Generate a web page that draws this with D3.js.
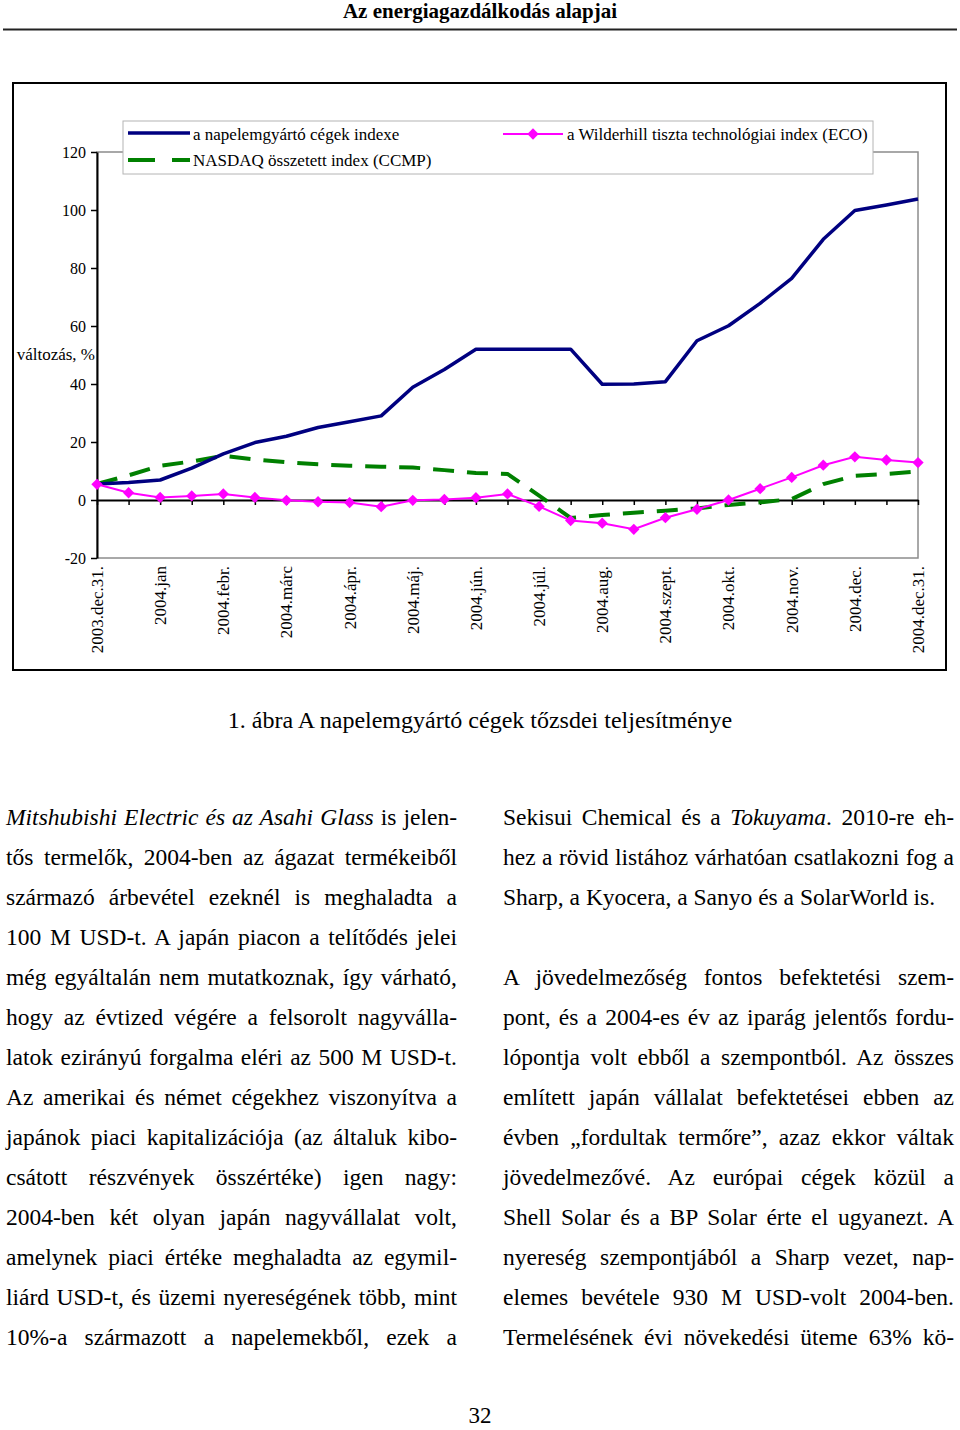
<!DOCTYPE html>
<html lang="hu">
<head>
    <meta charset="UTF-8">
    <title>A napelemgyártó cégek tőzsdei teljesítménye</title>
    <script src="https://cdnjs.cloudflare.com/ajax/libs/d3/7.8.2/d3.min.js"></script>
    <style>
        body{
            margin: 0;
            width: 960px;
            height: 1430px;
            position: relative;
            background: #fff;
            font-family: "Liberation Serif", "Times New Roman", serif;
            color: #000;
        }
        svg{
            position: absolute;
            left: 0;
            top: 0;
        }
        .col{
            position: absolute;
            top: 797px;
            width: 451px;
            font-size: 23.5px;
        }
        .ln{
            height: 40px;
            line-height: 40px;
            text-align: justify;
            text-align-last: justify;
        }
        .ln.last{
            text-align-last: left;
        }
        .pagenum{
            position: absolute;
            top: 1403px;
            width: 960px;
            text-align: center;
            font-size: 23px;
        }
    </style>
</head>
<body>
    <script>
        // categories (every other one is unlabeled)
        const categories = ['2003.dec.31.', '', '2004.jan', '', '2004.febr.', '', '2004.márc', '', '2004.ápr.', '',
            '2004.máj.', '', '2004.jún.', '', '2004.júl.', '', '2004.aug.', '', '2004.szept.', '', '2004.okt.', '',
            '2004.nov.', '', '2004.dec.', '', '2004.dec.31.'];

        // series values, change in %
        const solarIndex = [5.5, 6, 6.9, 11, 15.9, 19.8, 22, 25, 27, 29, 38.9, 45, 52, 52, 52, 52,
            39.9, 40, 40.8, 54.9, 60.1, 67.8, 76.4, 89.9, 99.8, 101.7, 103.8];
        const nasdaqIndex = [5.5, 8.5, 11.8, 13.3, 15.2, 14, 13, 12.3, 11.8, 11.5, 11.2, 10.3, 9.3, 9.0, 1.5, -6.2,
            -5.2, -4.4, -3.7, -2.9, -1.7, -0.8, 0.3, 5.5, 8.3, 9, 9.8];
        const ecoIndex = [5.4, 2.5, 0.9, 1.4, 2.1, 0.9, -0.1, -0.6, -0.9, -2.3, -0.1, 0.2, 0.8, 2.1, -2.2, -7.1,
            -8.0, -10.1, -6.1, -3.2, 0, 3.9, 7.8, 12, 14.9, 13.8, 12.9];

        const yTicks = [-20, 0, 20, 40, 60, 80, 100, 120];

        const seriesNames = ['a napelemgyártó cégek indexe', 'NASDAQ összetett index (CCMP)',
            'a Wilderhill tiszta technológiai index (ECO)'];

        // page text
        const leftLines = [
            '<i>Mitshubishi Electric és az Asahi Glass</i> is jelen-',
            'tős termelők, 2004-ben az ágazat termékeiből',
            'származó árbevétel ezeknél is meghaladta a',
            '100 M USD-t. A japán piacon a telítődés jelei',
            'még egyáltalán nem mutatkoznak, így várható,',
            'hogy az évtized végére a felsorolt nagyválla-',
            'latok ezirányú forgalma eléri az 500 M USD-t.',
            'Az amerikai és német cégekhez viszonyítva a',
            'japánok piaci kapitalizációja (az általuk kibo-',
            'csátott részvények összértéke) igen nagy:',
            '2004-ben két olyan japán nagyvállalat volt,',
            'amelynek piaci értéke meghaladta az egymil-',
            'liárd USD-t, és üzemi nyereségének több, mint',
            '10%-a származott a napelemekből, ezek a'
        ];
        const rightLines = [
            'Sekisui Chemical és a <i>Tokuyama</i>. 2010-re eh-',
            'hez a rövid listához várhatóan csatlakozni fog a',
            'Sharp, a Kyocera, a Sanyo és a SolarWorld is.',
            '',
            'A jövedelmezőség fontos befektetési szem-',
            'pont, és a 2004-es év az iparág jelentős fordu-',
            'lópontja volt ebből a szempontból. Az összes',
            'említett japán vállalat befektetései ebben az',
            'évben „fordultak termőre”, azaz ekkor váltak',
            'jövedelmezővé. Az európai cégek közül a',
            'Shell Solar és a BP Solar érte el ugyanezt. A',
            'nyereség szempontjából a Sharp vezet, nap-',
            'elemes bevétele 930 M USD-volt 2004-ben.',
            'Termelésének évi növekedési üteme 63% kö-'
        ];

        const width = 960;
        const height = 760;
        const plot = {left: 97, right: 918, top: 152, bottom: 558};
        const font = '"Liberation Serif", "Times New Roman", serif';

        const svg = d3.select('body').append('svg')
            .attr('width', width)
            .attr('height', height)
            .style('font-family', font);

        // page header
        svg.append('text')
            .attr('x', 480).attr('y', 18)
            .attr('text-anchor', 'middle')
            .style('font-size', '21px')
            .style('font-weight', 'bold')
            .text('Az energiagazdálkodás alapjai');
        svg.append('line')
            .attr('x1', 3).attr('x2', 957)
            .attr('y1', 29.5).attr('y2', 29.5)
            .attr('stroke', '#222').attr('stroke-width', 2);

        // chart frame
        svg.append('rect')
            .attr('x', 13).attr('y', 83)
            .attr('width', 933).attr('height', 587)
            .attr('fill', '#fff')
            .attr('stroke', '#000').attr('stroke-width', 2);

        const xScale = d3.scalePoint()
            .domain(d3.range(categories.length))
            .range([plot.left, plot.right]);

        const yScale = d3.scaleLinear()
            .domain([-20, 120])
            .range([plot.bottom, plot.top]);

        // plot area border
        svg.append('rect')
            .attr('x', plot.left).attr('y', plot.top)
            .attr('width', plot.right - plot.left)
            .attr('height', plot.bottom - plot.top)
            .attr('fill', 'none')
            .attr('stroke', '#8c8c8c').attr('stroke-width', 1.5);

        // y axis
        const yAxis = d3.axisLeft(yScale)
            .tickValues(yTicks)
            .tickSize(6)
            .tickSizeOuter(0)
            .tickPadding(5)
            .tickFormat(d => String(d));
        const gy = svg.append('g')
            .attr('transform', `translate(${plot.left},0)`)
            .call(yAxis);
        gy.select('.domain').attr('stroke', '#000').attr('stroke-width', 2);
        gy.selectAll('.tick line').attr('stroke', '#000').attr('stroke-width', 1.5);
        gy.selectAll('text').style('font-size', '16px').style('font-family', font);

        svg.append('text')
            .attr('x', 95).attr('y', 360)
            .attr('text-anchor', 'end')
            .style('font-size', '17px')
            .text('változás, %');

        // x axis on the zero line
        const xAxis = d3.axisBottom(xScale)
            .tickSize(5)
            .tickSizeOuter(0)
            .tickFormat('');
        const gx = svg.append('g')
            .attr('transform', `translate(0,${yScale(0)})`)
            .call(xAxis);
        gx.select('.domain').attr('stroke', '#000').attr('stroke-width', 2);
        gx.selectAll('.tick line').attr('stroke', '#000').attr('stroke-width', 1.5);

        // rotated category labels under the plot
        svg.append('g')
            .selectAll('text')
            .data(categories)
            .join('text')
            .attr('transform', (d, i) => `translate(${xScale(i)},${plot.bottom + 8}) rotate(-90)`)
            .attr('dy', '0.35em')
            .attr('text-anchor', 'end')
            .style('font-size', '17px')
            .text(d => d);

        const lineGen = d3.line()
            .x((d, i) => xScale(i))
            .y(d => yScale(d));

        svg.append('path')
            .datum(nasdaqIndex)
            .attr('d', lineGen)
            .attr('fill', 'none')
            .attr('stroke', '#008000')
            .attr('stroke-width', 4)
            .attr('stroke-dasharray', '21,13');

        svg.append('path')
            .datum(solarIndex)
            .attr('d', lineGen)
            .attr('fill', 'none')
            .attr('stroke', '#000080')
            .attr('stroke-width', 3.5)
            .attr('stroke-linejoin', 'round');

        svg.append('path')
            .datum(ecoIndex)
            .attr('d', lineGen)
            .attr('fill', 'none')
            .attr('stroke', '#ff00ff')
            .attr('stroke-width', 2);

        const diamond = d3.symbol().type(d3.symbolSquare).size(64);
        svg.append('g')
            .selectAll('path')
            .data(ecoIndex)
            .join('path')
            .attr('d', diamond)
            .attr('transform', (d, i) => `translate(${xScale(i)},${yScale(d)}) rotate(45)`)
            .attr('fill', '#ff00ff');

        // legend
        const legend = svg.append('g').attr('class', 'legend');
        legend.append('rect')
            .attr('x', 123).attr('y', 121)
            .attr('width', 750).attr('height', 53)
            .attr('fill', '#fff')
            .attr('stroke', '#b4b4b4').attr('stroke-width', 1);

        legend.append('line')
            .attr('x1', 128).attr('x2', 190).attr('y1', 133).attr('y2', 133)
            .attr('stroke', '#000080').attr('stroke-width', 3.5);
        legend.append('text')
            .attr('x', 193).attr('y', 140)
            .style('font-size', '17px')
            .text(seriesNames[0]);

        legend.append('line')
            .attr('x1', 128).attr('x2', 190).attr('y1', 160).attr('y2', 160)
            .attr('stroke', '#008000').attr('stroke-width', 4)
            .attr('stroke-dasharray', '27,17');
        legend.append('text')
            .attr('x', 193).attr('y', 166)
            .style('font-size', '17px')
            .text(seriesNames[1]);

        legend.append('line')
            .attr('x1', 503).attr('x2', 563).attr('y1', 134).attr('y2', 134)
            .attr('stroke', '#ff00ff').attr('stroke-width', 2);
        legend.append('path')
            .attr('d', diamond)
            .attr('transform', 'translate(533,134) rotate(45)')
            .attr('fill', '#ff00ff');
        legend.append('text')
            .attr('x', 567).attr('y', 140)
            .style('font-size', '17px')
            .text(seriesNames[2]);

        // figure caption
        svg.append('text')
            .attr('x', 480).attr('y', 728)
            .attr('text-anchor', 'middle')
            .style('font-size', '24px')
            .text('1. ábra A napelemgyártó cégek tőzsdei teljesítménye');

        // body text, two justified columns
        const addColumn = (lines, left) => {
            d3.select('body').append('div')
                .attr('class', 'col')
                .style('left', left + 'px')
                .selectAll('div')
                .data(lines)
                .join('div')
                .attr('class', (d, i) => (i === 2 && lines === rightLines) || d === '' ? 'ln last' : 'ln')
                .html(d => d === '' ? '&nbsp;' : d);
        };
        addColumn(leftLines, 6);
        addColumn(rightLines, 503);

        d3.select('body').append('div')
            .attr('class', 'pagenum')
            .text('32');
    </script>
</body>
</html>
